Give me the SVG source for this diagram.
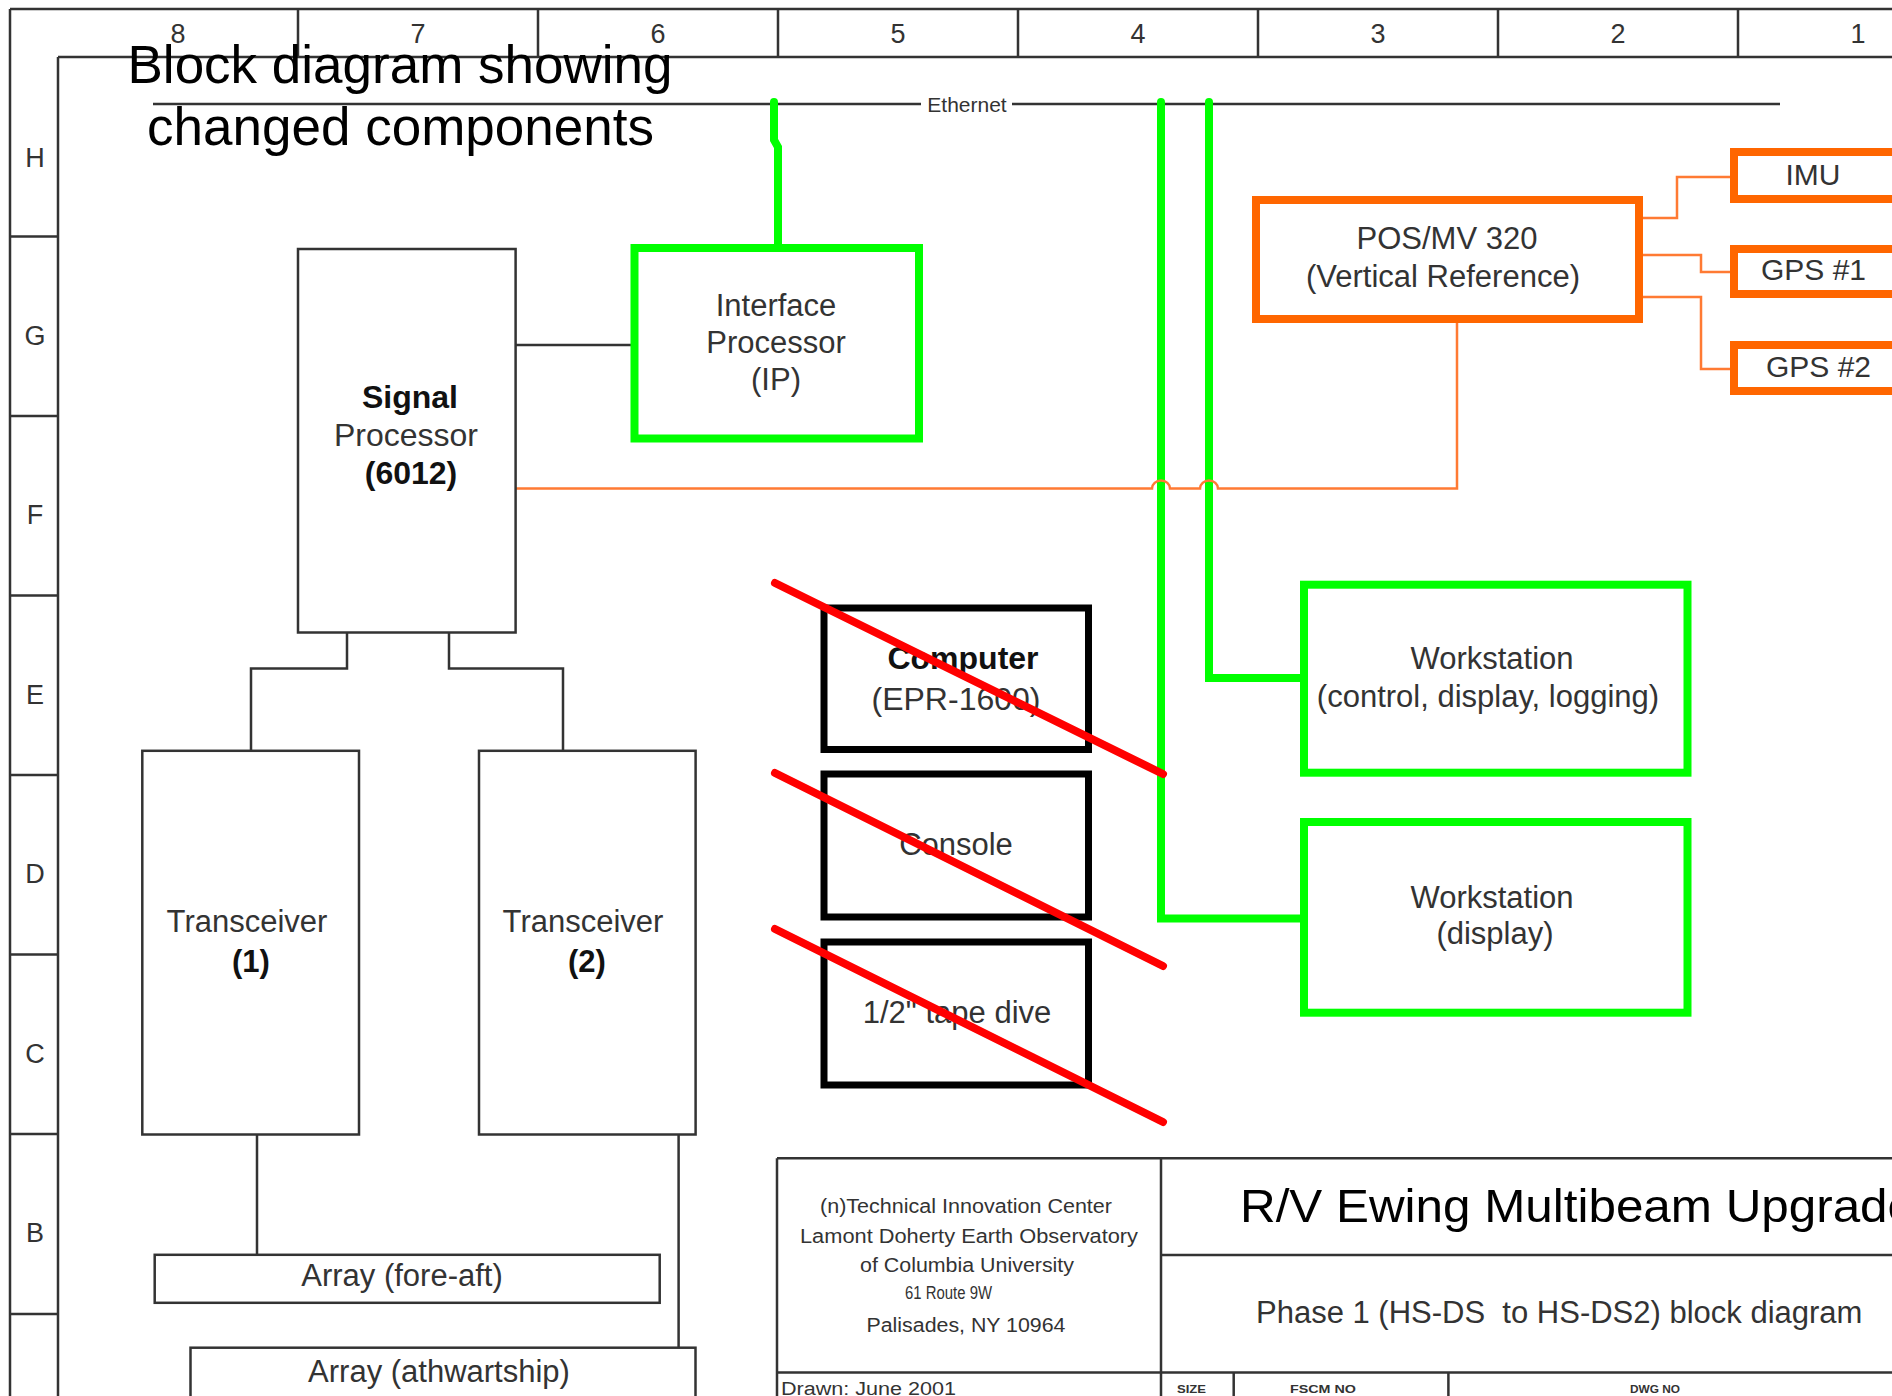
<svg xmlns="http://www.w3.org/2000/svg" width="1892" height="1396" viewBox="0 0 1892 1396">
<style>
text{font-family:"Liberation Sans",Arial,sans-serif;fill:#333}
.b{font-weight:bold;fill:#111}
.blk{fill:#000}
.m{text-anchor:middle}
.f{fill:none;stroke:#333;stroke-width:2.5}
.box{fill:#fff;stroke:#333;stroke-width:2.5}
.gbox{fill:#fff;stroke:#00ff00;stroke-width:8}
.obox{fill:#fff;stroke:#ff6600;stroke-width:8}
.kbox{fill:#fff;stroke:#000;stroke-width:7}
.g{fill:none;stroke:#00ff00;stroke-width:8;stroke-linecap:round}
.o{fill:none;stroke:#ff7a33;stroke-width:2.5}
.r{stroke:#ff0000;stroke-width:8;stroke-linecap:round}
.lab{font-size:27px;fill:#333}
.n{font-size:31px}
.tb{font-size:20px}
.tiny{font-size:11px;font-weight:bold}
</style>
<rect width="1892" height="1396" fill="#fff"/>

<g id="frame">
<path class="f" d="M10 9H1892M10 9V1396M58 57H1892M58 57V1396M298 9V57M538 9V57M778 9V57M1018 9V57M1258 9V57M1498 9V57M1738 9V57M10 236.5H58M10 416H58M10 595.5H58M10 775H58M10 954.5H58M10 1134H58M10 1314H58"/>
<g class="lab">
<text class="m lab" x="178" y="43">8</text>
<text class="m lab" x="418" y="43">7</text>
<text class="m lab" x="658" y="43">6</text>
<text class="m lab" x="898" y="43">5</text>
<text class="m lab" x="1138" y="43">4</text>
<text class="m lab" x="1378" y="43">3</text>
<text class="m lab" x="1618" y="43">2</text>
<text class="m lab" x="1858" y="43">1</text>
<text class="m lab" x="35" y="167">H</text>
<text class="m lab" x="35" y="345">G</text>
<text class="m lab" x="35" y="524">F</text>
<text class="m lab" x="35" y="704">E</text>
<text class="m lab" x="35" y="883">D</text>
<text class="m lab" x="35" y="1063">C</text>
<text class="m lab" x="35" y="1242">B</text>
</g>
</g>

<g id="ethernet">
<path class="f" d="M153 104H921M1012 104H1780"/>
<text class="m" x="967" y="111.5" font-size="21">Ethernet</text>
</g>

<g id="connectors">
<path class="f" d="M515 345H631M347 632.5V668.5H251V751M449 632.5V668.5H563V751M257 1134.5V1255M678.6 1134.5V1348"/>
<path class="g" d="M774 102V140L778 147V246"/>
<path class="g" d="M1161 102V918.5H1304"/>
<path class="g" d="M1209 102V678H1304"/>
<path class="o" d="M515 488.5H1152A9 8 0 0 1 1170 488.5H1200A9 8 0 0 1 1218 488.5H1457V323"/>
<path class="o" d="M1643 218H1677V177H1734M1643 255H1701V272H1734M1643 297H1701V369H1734"/>
</g>

<g id="signal-processor">
<rect class="box" x="298" y="249" width="217.6" height="383.5"/>
<text class="m b" x="410" y="408" font-size="32">Signal</text>
<text class="m" x="406" y="446" font-size="32">Processor</text>
<text class="m b" x="411" y="484" font-size="32">(6012)</text>
</g>

<g id="interface-processor">
<rect class="gbox" x="634.5" y="248" width="284.5" height="190.5"/>
<text class="m" x="776" y="316" font-size="31">Interface</text>
<text class="m" x="776" y="353" font-size="31">Processor</text>
<text class="m" x="776" y="390" font-size="31">(IP)</text>
</g>

<g id="pos-mv">
<rect class="obox" x="1256" y="200" width="383" height="119"/>
<text class="m n" x="1447" y="249">POS/MV 320</text>
<text class="m n" x="1443" y="287">(Vertical Reference)</text>
</g>
<g id="imu">
<rect class="obox" x="1734" y="152" width="220" height="47"/>
<text class="m" x="1813" y="185" font-size="30">IMU</text>
</g>
<g id="gps1">
<rect class="obox" x="1734" y="249" width="220" height="45"/>
<text x="1761" y="280" font-size="30">GPS #1</text>
</g>
<g id="gps2">
<rect class="obox" x="1734" y="345" width="220" height="46"/>
<text x="1766" y="377" font-size="30">GPS #2</text>
</g>

<g id="computer">
<rect class="kbox" x="824" y="608" width="264.5" height="141.5"/>
<text class="m b" x="963" y="669" font-size="32">Computer</text>
<text class="m" x="956" y="710" font-size="32">(EPR-1600)</text>
</g>
<g id="console">
<rect class="kbox" x="824" y="774" width="264.5" height="143"/>
<text class="m n" x="956" y="855">Console</text>
</g>
<g id="tape-drive">
<rect class="kbox" x="824" y="942" width="264.5" height="143"/>
<text class="m n" x="957" y="1022.5">1/2" tape dive</text>
</g>

<g id="workstation-1">
<rect class="gbox" x="1304" y="584.7" width="383.5" height="188"/>
<text class="m n" x="1492" y="669">Workstation</text>
<text class="m n" x="1488" y="707">(control, display, logging)</text>
</g>
<g id="workstation-2">
<rect class="gbox" x="1304" y="822" width="383.5" height="190.7"/>
<text class="m n" x="1492" y="908">Workstation</text>
<text class="m n" x="1495" y="944">(display)</text>
</g>

<g id="transceiver-1">
<rect class="box" x="142.3" y="750.8" width="216.7" height="383.7"/>
<text class="m n" x="247" y="932">Transceiver</text>
<text class="m b n" x="251" y="972">(1)</text>
</g>
<g id="transceiver-2">
<rect class="box" x="479" y="750.8" width="216.6" height="383.7"/>
<text class="m n" x="583" y="932">Transceiver</text>
<text class="m b n" x="587" y="972">(2)</text>
</g>
<g id="array-fore-aft">
<rect class="box" x="154.7" y="1254.8" width="505" height="48"/>
<text class="m n" x="402" y="1286">Array (fore-aft)</text>
</g>
<g id="array-athwartship">
<rect class="box" x="190.5" y="1347.7" width="505" height="70"/>
<text class="m n" x="439" y="1382">Array (athwartship)</text>
</g>

<g id="strikes">
<line class="r" x1="775" y1="583" x2="1163" y2="774"/>
<line class="r" x1="775" y1="773" x2="1163" y2="966"/>
<line class="r" x1="775" y1="929" x2="1163" y2="1122"/>
</g>

<g id="titleblock">
<path class="f" d="M777 1158.3H1892M777 1158.3V1396M1161 1158.3V1396M1161 1255H1892M777 1372.5H1892M1233.7 1372.5V1396M1448.4 1372.5V1396"/>
<text class="m tb" x="966" y="1213" textLength="292" lengthAdjust="spacingAndGlyphs">(n)Technical Innovation Center</text>
<text class="m tb" x="969" y="1243" textLength="338" lengthAdjust="spacingAndGlyphs">Lamont Doherty Earth Observatory</text>
<text class="m tb" x="967" y="1272" textLength="214" lengthAdjust="spacingAndGlyphs">of Columbia University</text>
<text class="m" x="948.5" y="1299" font-size="18" textLength="87" lengthAdjust="spacingAndGlyphs">61 Route 9W</text>
<text class="m tb" x="966" y="1332" textLength="199" lengthAdjust="spacingAndGlyphs">Palisades, NY 10964</text>
<text class="blk" x="1240" y="1221.7" font-size="47" textLength="675" lengthAdjust="spacingAndGlyphs">R/V Ewing Multibeam Upgrade</text>
<text x="1256" y="1323" font-size="31">Phase 1 (HS-DS&#160; to HS-DS2) block diagram</text>
<text x="781" y="1395" font-size="18" textLength="175" lengthAdjust="spacingAndGlyphs">Drawn: June 2001</text>
<text class="tiny" x="1177" y="1393" textLength="29" lengthAdjust="spacingAndGlyphs">SIZE</text>
<text class="tiny" x="1290" y="1393" textLength="66" lengthAdjust="spacingAndGlyphs">FSCM NO</text>
<text class="tiny" x="1630" y="1393" textLength="50" lengthAdjust="spacingAndGlyphs">DWG NO</text>
</g>

<g id="title">
<text class="m blk" x="400" y="83" font-size="53">Block diagram showing</text>
<text class="m blk" x="400.5" y="145" font-size="53">changed components</text>
</g>
</svg>
